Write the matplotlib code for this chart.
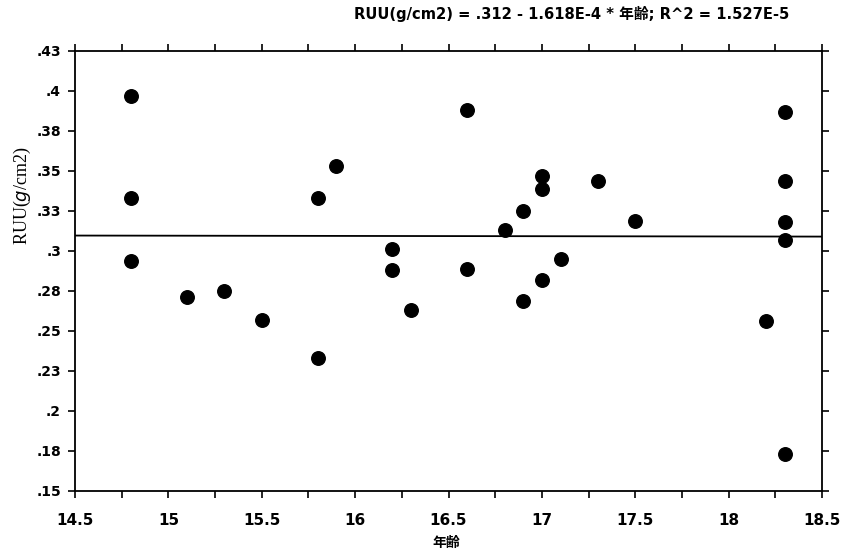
import matplotlib
matplotlib.use('Agg')
import matplotlib.pyplot as plt
import numpy as np

plt.rcParams["font.family"] = ["DejaVu Sans", "Noto Sans CJK JP"]
plt.rcParams["axes.unicode_minus"] = False

# ----------------------
# 数据
# ----------------------
age = [14.8, 14.8, 14.8, 15.1, 15.3, 15.5, 15.8, 15.9, 15.8,
       16.2, 16.2, 16.3, 16.6, 16.6, 16.8, 16.9, 16.9,
       17.0, 17.0, 17.0, 17.1, 17.3, 17.5, 18.2,
       18.3, 18.3, 18.3, 18.3, 18.3]
ruu = [0.397, 0.333, 0.294, 0.271, 0.275, 0.257, 0.333, 0.353, 0.233,
       0.301, 0.288, 0.263, 0.388, 0.289, 0.313, 0.325, 0.269,
       0.347, 0.339, 0.282, 0.295, 0.344, 0.319, 0.256,
       0.387, 0.344, 0.318, 0.307, 0.173]

intercept = 0.312
slope = -1.618e-4

y_ticks = [0.15, 0.175, 0.2, 0.225, 0.25, 0.275, 0.3, 0.325, 0.35, 0.375, 0.4, 0.425]
y_labels = [".15", ".18", ".2", ".23", ".25", ".28", ".3", ".33", ".35", ".38", ".4", ".43"]
x_ticks = [14.5, 15, 15.5, 16, 16.5, 17, 17.5, 18, 18.5]
x_labels = ["14.5", "15", "15.5", "16", "16.5", "17", "17.5", "18", "18.5"]

title_text = "RUU(g/cm2) = .312 - 1.618E-4 * 年齢; R^2 = 1.527E-5"

# ----------------------
# 画图
# ----------------------
fig = plt.figure(figsize=(8.42, 5.55), dpi=100)
ax = fig.add_axes([75/842, 1 - 491/555, (822 - 75)/842, (491 - 51)/555])

ax.scatter(age, ruu, s=95, color="black", zorder=3)

xl = np.array([14.5, 18.5])
ax.plot(xl, intercept + slope * xl, color="black", lw=1.3)

ax.set_xlim(14.5, 18.5)
ax.set_ylim(0.15, 0.425)
ax.set_xticks(x_ticks)
ax.set_xticklabels(x_labels)
ax.set_xticks(np.arange(14.75, 18.5, 0.5), minor=True)
ax.set_yticks(y_ticks)
ax.set_yticklabels(y_labels)

ax.tick_params(axis="x", which="both", direction="out", length=5, width=1.2,
               top=True, labelsize=11, pad=11)
ax.tick_params(axis="y", which="both", direction="out", length=5, width=1.2,
               right=True, labelsize=10, pad=5)
for lab in ax.get_xticklabels() + ax.get_yticklabels():
    lab.set_fontweight("bold")
for sp in ax.spines.values():
    sp.set_linewidth(1.3)

fig.text(22/842, 1 - 196/555, "RUU($g$/cm2)", rotation=90, ha="center", va="center",
         family="Liberation Serif", fontsize=13)
fig.text(446/842, 1 - 543/555, "年齢", ha="center", va="center",
         family=["Noto Sans CJK JP", "DejaVu Sans"], fontsize=10, fontweight="bold")
fig.text(354/842, 1 - 14/555, title_text, ha="left", va="center",
         family=["DejaVu Sans", "Noto Sans CJK JP"], fontsize=10.6, fontweight="bold")

plt.savefig("out.png", dpi=100)
plt.close()
